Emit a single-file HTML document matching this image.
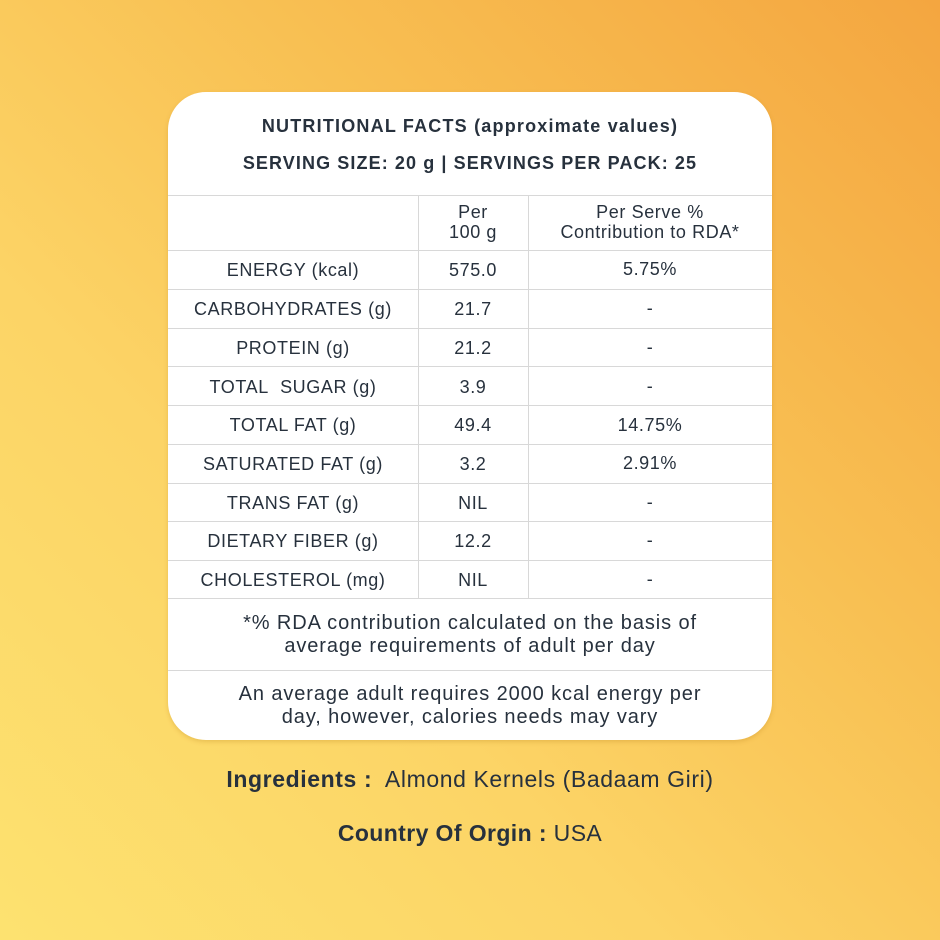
<!DOCTYPE html>
<html><head><style>
*{margin:0;padding:0;box-sizing:border-box}
body{width:940px;height:940px;overflow:hidden;position:relative;font-family:"Liberation Sans",sans-serif;color:#27313d;
background:linear-gradient(225deg,#f4a640 0%,#f8bf52 35%,#fcd466 65%,#fde270 100%);}
.card{position:absolute;left:168px;top:92px;width:604px;height:648px;background:#fff;border-radius:38px;box-shadow:0 2px 4px rgba(180,120,20,.25)}
.t{position:absolute;left:0;width:100%;text-align:center;white-space:nowrap}
.hl{position:absolute;left:0;width:604px;height:1px;background:#d8d8d8}
.vl{position:absolute;width:1px;background:#d8d8d8;top:103px;height:403px}
.c{position:absolute;text-align:center;font-size:18px;white-space:nowrap;letter-spacing:0.6px}
.c1{left:0;width:250px}.c2{left:250px;width:110px}.c3{left:360px;width:244px}
.b{font-weight:bold}
</style></head><body>
<div class="card">
<div class="t b" style="top:24px;font-size:18px;letter-spacing:1.2px">NUTRITIONAL FACTS (approximate values)</div>
<div class="t b" style="top:61px;font-size:18px;letter-spacing:1.1px">SERVING SIZE: 20 g | SERVINGS PER PACK: 25</div>
<div class="hl" style="top:103px"></div>
<div class="hl" style="top:158px"></div>
<div class="hl" style="top:197px"></div>
<div class="hl" style="top:236px"></div>
<div class="hl" style="top:274px"></div>
<div class="hl" style="top:313px"></div>
<div class="hl" style="top:352px"></div>
<div class="hl" style="top:391px"></div>
<div class="hl" style="top:429px"></div>
<div class="hl" style="top:468px"></div>
<div class="hl" style="top:506px"></div>
<div class="hl" style="top:578px"></div>
<div class="vl" style="left:250px"></div>
<div class="vl" style="left:360px"></div>
<div class="c c2" style="top:110px;line-height:20px">Per<br>100 g</div>
<div class="c c3" style="top:110px;line-height:20px">Per Serve %<br>Contribution to RDA*</div>

<div class="c c1" style="top:168px">ENERGY (kcal)</div><div class="c c2" style="top:168px">575.0</div><div class="c c3" style="top:167px">5.75%</div>
<div class="c c1" style="top:207px">CARBOHYDRATES (g)</div><div class="c c2" style="top:207px">21.7</div><div class="c c3" style="top:206px">-</div>
<div class="c c1" style="top:246px">PROTEIN (g)</div><div class="c c2" style="top:246px">21.2</div><div class="c c3" style="top:245px">-</div>
<div class="c c1" style="top:285px">TOTAL&nbsp; SUGAR (g)</div><div class="c c2" style="top:285px">3.9</div><div class="c c3" style="top:284px">-</div>
<div class="c c1" style="top:323px">TOTAL FAT (g)</div><div class="c c2" style="top:323px">49.4</div><div class="c c3" style="top:323px">14.75%</div>
<div class="c c1" style="top:362px">SATURATED FAT (g)</div><div class="c c2" style="top:362px">3.2</div><div class="c c3" style="top:361px">2.91%</div>
<div class="c c1" style="top:401px">TRANS FAT (g)</div><div class="c c2" style="top:401px">NIL</div><div class="c c3" style="top:400px">-</div>
<div class="c c1" style="top:439px">DIETARY FIBER (g)</div><div class="c c2" style="top:439px">12.2</div><div class="c c3" style="top:438px">-</div>
<div class="c c1" style="top:478px">CHOLESTEROL (mg)</div><div class="c c2" style="top:478px">NIL</div><div class="c c3" style="top:477px">-</div>

<div class="t" style="top:520px;font-size:20px;line-height:23px;letter-spacing:0.9px">*% RDA contribution calculated on the basis of<br>average requirements of adult per day</div>
<div class="t" style="top:591px;font-size:20px;line-height:23px;letter-spacing:0.9px">An average adult requires 2000 kcal energy per<br>day, however, calories needs may vary</div>
</div>
<div class="t" style="top:766px;font-size:23px;letter-spacing:0.6px"><b>Ingredients :</b>&nbsp; Almond Kernels (Badaam Giri)</div>
<div class="t" style="top:820px;font-size:23px;letter-spacing:0.4px"><b>Country Of Orgin :</b> USA</div>
</body></html>
